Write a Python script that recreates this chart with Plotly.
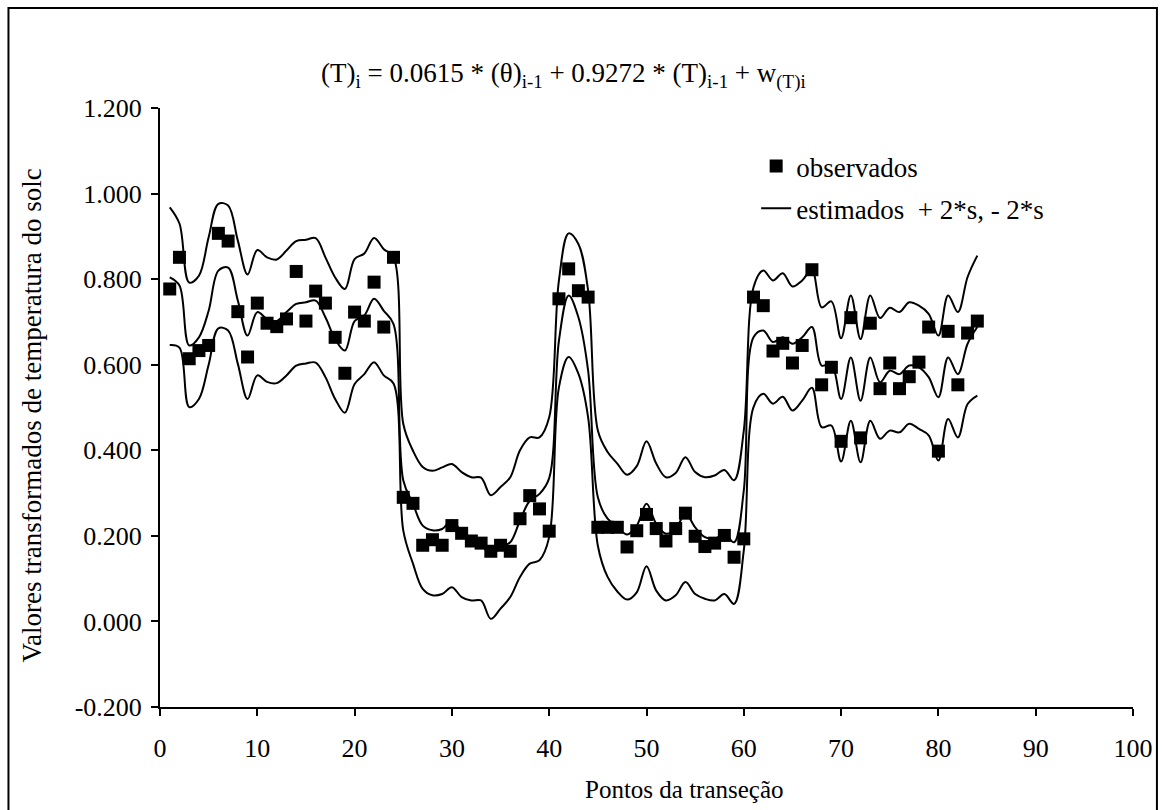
import plotly.graph_objects as go

points = list(range(1, 85))

observados = [0.777, 0.851, 0.614, 0.633, 0.645, 0.907, 0.889, 0.724, 0.618, 0.744,
              0.697, 0.689, 0.707, 0.818, 0.702, 0.772, 0.744, 0.664, 0.580, 0.723,
              0.702, 0.793, 0.688, 0.851, 0.290, 0.276, 0.178, 0.191, 0.178, 0.224,
              0.206, 0.188, 0.183, 0.164, 0.178, 0.164, 0.240, 0.294, 0.263, 0.211,
              0.754, 0.824, 0.773, 0.758, 0.220, 0.220, 0.220, 0.174, 0.212, 0.250,
              0.217, 0.188, 0.217, 0.253, 0.199, 0.175, 0.183, 0.201, 0.150, 0.193,
              0.758, 0.738, 0.632, 0.650, 0.604, 0.645, 0.822, 0.553, 0.594, 0.421,
              0.710, 0.429, 0.697, 0.544, 0.604, 0.544, 0.572, 0.606, 0.688, 0.398,
              0.678, 0.553, 0.674, 0.702]

estimados = [0.804, 0.785, 0.645, 0.664, 0.726, 0.820, 0.827, 0.750, 0.668, 0.723,
             0.707, 0.702, 0.723, 0.742, 0.746, 0.750, 0.711, 0.660, 0.633, 0.702,
             0.715, 0.754, 0.726, 0.695, 0.330, 0.275, 0.224, 0.213, 0.216, 0.236,
             0.209, 0.193, 0.181, 0.154, 0.174, 0.185, 0.236, 0.282, 0.298, 0.335,
             0.656, 0.762, 0.711, 0.586, 0.290, 0.240, 0.222, 0.203, 0.224, 0.275,
             0.228, 0.205, 0.216, 0.252, 0.220, 0.197, 0.193, 0.205, 0.185, 0.306,
             0.664, 0.680, 0.653, 0.664, 0.649, 0.664, 0.688, 0.598, 0.602, 0.520,
             0.617, 0.516, 0.617, 0.559, 0.586, 0.578, 0.598, 0.594, 0.571, 0.524,
             0.617, 0.578, 0.649, 0.688]

mais_2s = [0.968, 0.930, 0.792, 0.808, 0.898, 0.976, 0.972, 0.890, 0.811, 0.868,
           0.851, 0.846, 0.867, 0.889, 0.892, 0.896, 0.851, 0.804, 0.777, 0.847,
           0.860, 0.896, 0.870, 0.851, 0.462, 0.399, 0.361, 0.352, 0.360, 0.368,
           0.349, 0.337, 0.336, 0.295, 0.314, 0.337, 0.400, 0.430, 0.430, 0.477,
           0.797, 0.907, 0.882, 0.773, 0.446, 0.396, 0.369, 0.343, 0.363, 0.421,
           0.369, 0.337, 0.347, 0.384, 0.349, 0.337, 0.341, 0.354, 0.330, 0.446,
           0.781, 0.820, 0.797, 0.814, 0.783, 0.797, 0.822, 0.734, 0.748, 0.662,
           0.762, 0.660, 0.762, 0.709, 0.733, 0.723, 0.746, 0.738, 0.719, 0.668,
           0.762, 0.723, 0.805, 0.855]

menos_2s = [0.646, 0.640, 0.501, 0.520, 0.600, 0.685, 0.680, 0.602, 0.520, 0.575,
            0.560, 0.557, 0.575, 0.598, 0.603, 0.605, 0.571, 0.520, 0.488, 0.555,
            0.578, 0.606, 0.575, 0.556, 0.213, 0.135, 0.076, 0.061, 0.064, 0.080,
            0.057, 0.049, 0.049, 0.006, 0.030, 0.057, 0.104, 0.135, 0.143, 0.197,
            0.547, 0.618, 0.579, 0.477, 0.177, 0.104, 0.070, 0.051, 0.068, 0.129,
            0.072, 0.049, 0.061, 0.092, 0.064, 0.053, 0.049, 0.064, 0.041, 0.166,
            0.501, 0.532, 0.509, 0.525, 0.493, 0.516, 0.546, 0.454, 0.458, 0.374,
            0.469, 0.372, 0.469, 0.427, 0.446, 0.442, 0.462, 0.450, 0.435, 0.376,
            0.473, 0.430, 0.508, 0.528]

y_tickvals = [-0.2, 0.0, 0.2, 0.4, 0.6, 0.8, 1.0, 1.2]
y_ticktext = ["-0.200", "0.000", "0.200", "0.400", "0.600", "0.800", "1.000", "1.200"]
x_tickvals = [0, 10, 20, 30, 40, 50, 60, 70, 80, 90, 100]

FONT = "Liberation Serif"
TICK_FS = 26
LEG_FS = 27
TITLE_FS = 27
YT_FS = 27
XT_FS = 25

fig = go.Figure()

line_style = dict(color="black", width=2, shape="spline", smoothing=1.0)

fig.add_trace(go.Scatter(x=points, y=observados, mode="markers", name="observados",
                         legendgroup="a",
                         marker=dict(symbol="square", size=13, color="black")))
fig.add_trace(go.Scatter(x=points, y=estimados, mode="lines", name="estimados  + 2*s, - 2*s",
                         legendgroup="b", line=line_style))
fig.add_trace(go.Scatter(x=points, y=mais_2s, mode="lines", showlegend=False,
                         legendgroup="b", line=line_style))
fig.add_trace(go.Scatter(x=points, y=menos_2s, mode="lines", showlegend=False,
                         legendgroup="b", line=line_style))

L, R, T, B = 160, 29, 108, 103
W, H = 1165, 810
pw, ph = W - L - R, H - T - B

def px2paper_x(px):
    return (px - L) / pw

def px2paper_y(py):
    return (H - B - py) / ph

fig.update_layout(
    width=W, height=H,
    margin=dict(l=L, r=R, t=T, b=B),
    paper_bgcolor="white", plot_bgcolor="white",
    font=dict(family=FONT, size=TICK_FS, color="black"),
    showlegend=True,
    legend=dict(x=px2paper_x(758), y=px2paper_y(142), xanchor="left", yanchor="top",
                bgcolor="rgba(0,0,0,0)", font=dict(family=FONT, size=LEG_FS),
                traceorder="grouped", tracegroupgap=4, itemwidth=30),
    xaxis=dict(range=[0, 100], tickvals=x_tickvals, ticks="outside", ticklen=7,
               tickwidth=2, tickcolor="black", showline=True, linecolor="black",
               linewidth=2, showgrid=False, zeroline=False,
               tickfont=dict(family=FONT, size=TICK_FS), ticklabelstandoff=10),
    yaxis=dict(range=[-0.2, 1.2], tickvals=y_tickvals, ticktext=y_ticktext,
               ticks="outside", ticklen=7, tickwidth=2, tickcolor="black",
               showline=True, linecolor="black", linewidth=2, showgrid=False,
               zeroline=False, tickfont=dict(family=FONT, size=TICK_FS),
               ticklabelstandoff=4),
    annotations=[
        dict(text="(T)<sub>i</sub> = 0.0615 * (θ)<sub>i-1</sub> + 0.9272 * (T)<sub>i-1</sub> + w<sub>(T)i</sub>",
             xref="paper", yref="paper", x=px2paper_x(565), y=px2paper_y(75),
             xanchor="center", yanchor="middle", showarrow=False,
             font=dict(family=FONT, size=TITLE_FS)),
        dict(text="Valores transformados de temperatura do solc",
             xref="paper", yref="paper", x=px2paper_x(32), y=px2paper_y(415),
             xanchor="center", yanchor="middle", textangle=-90, showarrow=False,
             font=dict(family=FONT, size=YT_FS)),
        dict(text="Pontos da transeção",
             xref="paper", yref="paper", x=px2paper_x(686), y=px2paper_y(790),
             xanchor="center", yanchor="middle", showarrow=False,
             font=dict(family=FONT, size=XT_FS)),
    ],
    shapes=[
        dict(type="rect", xref="paper", yref="paper",
             x0=px2paper_x(8), x1=px2paper_x(1160), y0=px2paper_y(830), y1=px2paper_y(8),
             line=dict(color="black", width=2), fillcolor="rgba(0,0,0,0)", layer="below"),
    ],
)

fig.write_html("out.html")
